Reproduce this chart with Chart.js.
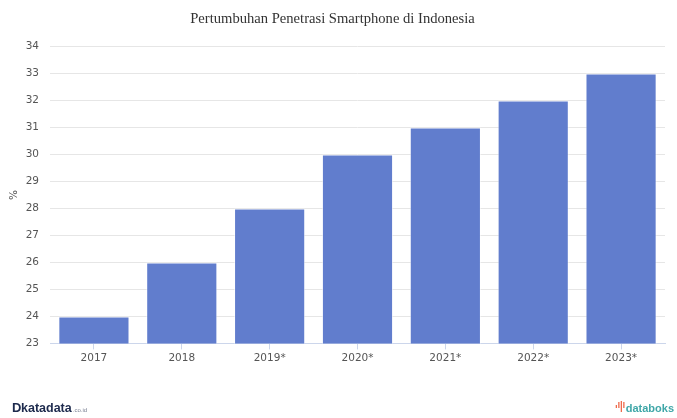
<!DOCTYPE html>
<html>
<head>
<meta charset="utf-8">
<script src="https://cdn.jsdelivr.net/npm/chart.js@4"></script>
<style>
  html, body { margin: 0; padding: 0; background: #fff; }
  #wrap { width: 677px; height: 418px; }
</style>
</head>
<body>
<div id="wrap"><canvas id="chart" width="677" height="418"></canvas></div>
<script>
const years = ["2017", "2018", "2019*", "2020*", "2021*", "2022*", "2023*"];
const penetration = [24, 26, 28, 30, 31, 32, 33];
const yTicks = [23, 24, 25, 26, 27, 28, 29, 30, 31, 32, 33, 34];

// logos drawn as text at the bottom corners
const logos = {
  id: "logos",
  afterDraw(chart) {
    const ctx = chart.ctx;
    ctx.save();
    ctx.textBaseline = "alphabetic";
    ctx.fillStyle = "#1d2a4d";
    ctx.font = "bold 13px 'Liberation Sans'";
    ctx.fillText("D", 12, 412);
    ctx.font = "bold 12.5px 'Liberation Sans'";
    ctx.fillText("katadata", 21, 412);
    const kw = ctx.measureText("katadata").width;
    ctx.font = "6px 'Liberation Sans'";
    ctx.fillStyle = "#7a8194";
    ctx.fillText(".co.id", 22 + kw, 412);

    // databoks mark
    ctx.font = "bold 11px 'Liberation Sans'";
    const dw = ctx.measureText("databoks").width;
    const dx = 674 - dw;
    ctx.fillStyle = "#ef6a4c";
    [[-9, 405, 3], [-6.5, 402, 6], [-4, 401, 11], [-1.5, 402, 6]].forEach(([x, y, h]) => {
      ctx.fillRect(dx + x - 1, y, 1.3, h);
    });
    ctx.fillStyle = "#3fa7a8";
    ctx.fillText("databoks", dx, 412);
    ctx.restore();
  }
};

new Chart(document.getElementById("chart"), {
  type: "bar",
  data: {
    labels: years,
    datasets: [{
      data: penetration,
      backgroundColor: "#617dcd",
      borderColor: "rgba(255,255,255,0.55)",
      borderWidth: 1,
      categoryPercentage: 0.81,
      barPercentage: 1
    }]
  },
  options: {
    responsive: false,
    animation: false,
    layout: { padding: { top: 5, left: 0, right: 12, bottom: 50 } },
    plugins: {
      legend: { display: false },
      tooltip: { enabled: false },
      title: {
        display: true,
        text: "Pertumbuhan Penetrasi Smartphone di Indonesia",
        font: { family: "'Liberation Serif'", size: 14.6, weight: "normal" },
        color: "#333",
        padding: { top: 5, bottom: 19 }
      }
    },
    scales: {
      x: {
        offset: true,
        grid: { display: true, drawOnChartArea: false, offset: false, tickLength: 6, color: "#ccd6eb" },
        border: { color: "#ccd6eb" },
        ticks: { color: "#555", font: { family: "'DejaVu Sans'", size: 10.5 }, padding: 3 }
      },
      y: {
        min: 23,
        max: 34,
        afterBuildTicks(axis) { axis.ticks = yTicks.map(v => ({ value: v })); },
        afterFit(axis) { axis.width = 50; },
        grid: { color: "#e6e6e6", drawTicks: false },
        border: { display: false },
        ticks: { color: "#555", font: { family: "'DejaVu Sans'", size: 10.5 }, padding: 11 },
        title: { display: true, text: "%", color: "#555", font: { family: "'DejaVu Sans'", size: 10.5 }, padding: { top: 8, bottom: 0 } }
      }
    }
  },
  plugins: [logos]
});
</script>
</body>
</html>
